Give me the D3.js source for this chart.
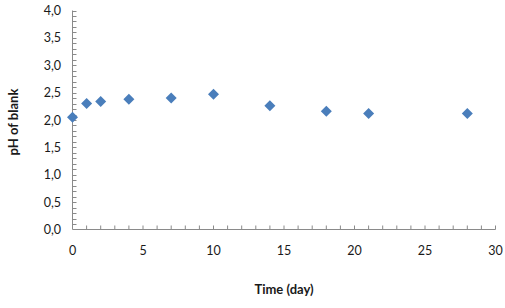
<!DOCTYPE html>
<html>
<head>
<meta charset="utf-8">
<script src="https://cdn.jsdelivr.net/npm/d3@7"></script>
<style>
  body { margin: 0; background: #fff; }
  text { font-family: Lato, "Open Sans", sans-serif; fill: #1a1a1a; }
</style>
</head>
<body>
<div class="draw"></div>
<script>
var days = [0, 1, 2, 4, 7, 10, 14, 18, 21, 28];
var ph = [2.05, 2.30, 2.34, 2.38, 2.40, 2.47, 2.26, 2.16, 2.12, 2.12];
var xTicks = [0, 5, 10, 15, 20, 25, 30];
var yTicks = [0, 0.5, 1, 1.5, 2, 2.5, 3, 3.5, 4];

var size = { w: 505, h: 308 };
var axisColor = '#8a8a8a';

var svg = d3.select('.draw').append('svg')
  .attr('width', size.w)
  .attr('height', size.h);

var x = d3.scaleLinear().domain([0, 30]).range([72.5, 495.5]);
var y = d3.scaleLinear().domain([0, 4]).range([229.5, 10.5]);

// minor ticks, pointing into the plot
svg.append('g').selectAll('line')
  .data(d3.range(1, 31))
  .enter().append('line')
  .attr('x1', function(d) { return x(d); })
  .attr('x2', function(d) { return x(d); })
  .attr('y1', y(0))
  .attr('y2', y(0) - 4)
  .attr('stroke', axisColor);

svg.append('g').selectAll('line')
  .data(d3.range(1, 41).map(function(i) { return i / 10; }))
  .enter().append('line')
  .attr('x1', x(0))
  .attr('x2', x(0) + 4)
  .attr('y1', function(d) { return Math.round(y(d)) + 0.5; })
  .attr('y2', function(d) { return Math.round(y(d)) + 0.5; })
  .attr('stroke', axisColor);

// axis lines
svg.append('line')
  .attr('x1', x(0)).attr('x2', x(30))
  .attr('y1', y(0)).attr('y2', y(0))
  .attr('stroke', axisColor);
svg.append('line')
  .attr('x1', x(0)).attr('x2', x(0))
  .attr('y1', y(0)).attr('y2', y(4))
  .attr('stroke', axisColor);

// tick labels
svg.append('g').selectAll('text')
  .data(xTicks)
  .enter().append('text')
  .attr('x', function(d) { return x(d); })
  .attr('y', 255)
  .attr('text-anchor', 'middle')
  .attr('font-size', 12.5)
  .text(function(d) { return d; });

svg.append('g').selectAll('text')
  .data(yTicks)
  .enter().append('text')
  .attr('x', 61)
  .attr('y', function(d) { return y(d) + 4.5; })
  .attr('text-anchor', 'end')
  .attr('font-size', 12.5)
  .text(function(d) { return d3.format('.1f')(d).replace('.', ','); });

// axis titles
svg.append('text')
  .attr('x', 284)
  .attr('y', 294)
  .attr('text-anchor', 'middle')
  .attr('font-size', 13)
  .attr('font-weight', 'bold')
  .text('Time (day)');

svg.append('text')
  .attr('transform', 'translate(18,122) rotate(-90)')
  .attr('text-anchor', 'middle')
  .attr('font-size', 13)
  .attr('font-weight', 'bold')
  .text('pH of blank');

// diamond markers
svg.append('g').selectAll('path')
  .data(days)
  .enter().append('path')
  .attr('d', 'M0,-5.5L5.5,0L0,5.5L-5.5,0Z')
  .attr('transform', function(d, i) { return 'translate(' + x(d) + ',' + y(ph[i]) + ')'; })
  .attr('fill', '#4a7ebb');
</script>
</body>
</html>
